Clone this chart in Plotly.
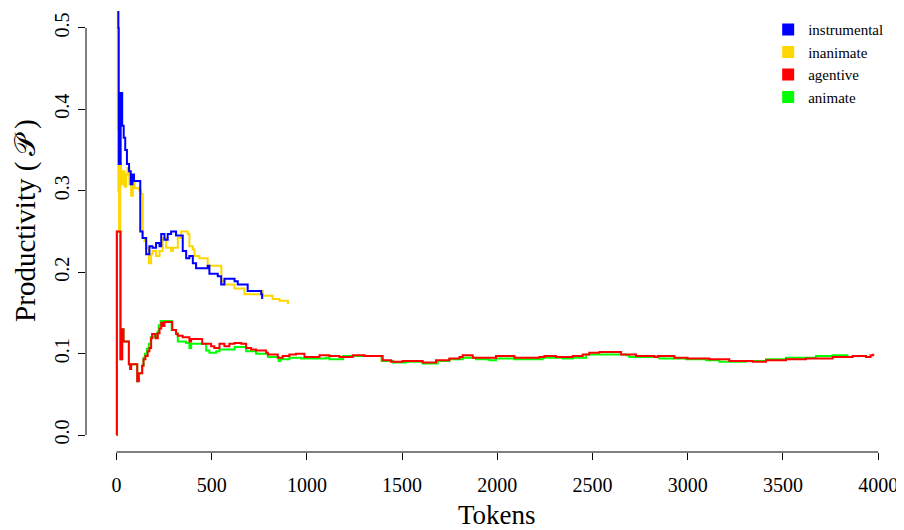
import plotly.graph_objects as go

# ---- data ----
instrumental_tokens = [1, 10, 12, 22, 30, 38, 46, 55, 66, 75, 84, 92, 124, 125, 137, 156, 173, 189, 208, 226,
                       235, 252, 269, 287, 313, 340, 348, 366, 383, 401, 418, 479, 488, 532, 550, 567, 620,
                       637, 689, 760, 765]
instrumental_values = [1.0, 0.5, 0.333, 0.42, 0.38, 0.365, 0.35, 0.333, 0.324, 0.308, 0.32, 0.312, 0.312, 0.25,
                       0.242, 0.222, 0.232, 0.23, 0.236, 0.232, 0.247, 0.24, 0.247, 0.25, 0.245, 0.245, 0.226,
                       0.217, 0.22, 0.211, 0.205, 0.208, 0.198, 0.195, 0.185, 0.192, 0.189, 0.185, 0.177,
                       0.173, 0.167]

inanimate_tokens = [1, 7, 10, 14, 20, 24, 33, 42, 51, 58, 68, 77, 86, 95, 121, 130, 138, 147, 156, 170, 182,
                    189, 208, 226, 243, 261, 287, 296, 322, 340, 374, 383, 401, 410, 435, 479, 550, 551, 567,
                    620, 672, 760, 768, 820, 856, 900]
inanimate_values = [1.0, 0.376, 0.3, 0.25, 0.333, 0.308, 0.324, 0.305, 0.32, 0.328, 0.308, 0.294, 0.312, 0.303,
                    0.30, 0.296, 0.242, 0.238, 0.23, 0.211, 0.222, 0.226, 0.22, 0.226, 0.242, 0.23, 0.226, 0.23,
                    0.242, 0.25, 0.247, 0.232, 0.228, 0.22, 0.217, 0.208, 0.205, 0.189, 0.185, 0.18, 0.173,
                    0.177, 0.171, 0.167, 0.165, 0.161]

agentive_tokens = [1, 2, 20, 21, 30, 37, 59, 65, 72, 77, 103, 109, 117, 130, 135, 142, 152, 164, 173, 182, 187,
                   200, 205, 217, 226, 235, 243, 252, 287, 293, 313, 322, 348, 383, 392, 436, 450, 497, 514,
                   541, 567, 593, 620, 655, 681, 707, 733, 786, 795, 838, 847, 873, 908, 943, 987, 1048, 1066,
                   1118, 1171, 1241, 1302, 1390, 1398, 1442, 1503, 1608, 1678, 1748, 1801, 1818, 1871, 1993,
                   2090, 2221, 2247, 2308, 2396, 2448, 2483, 2536, 2650, 2728, 2825, 2842, 2930, 2999, 3113,
                   3218, 3341, 3411, 3516, 3621, 3761, 3866, 3936, 3960, 3974]
agentive_values = [0.0, 0.25, 0.25, 0.093, 0.13, 0.115, 0.115, 0.087, 0.081, 0.087, 0.087, 0.066, 0.076, 0.076,
                   0.085, 0.093, 0.097, 0.103, 0.107, 0.119, 0.124, 0.124, 0.119, 0.125, 0.131, 0.138, 0.134,
                   0.139, 0.139, 0.129, 0.124, 0.122, 0.12, 0.115, 0.118, 0.118, 0.112, 0.109, 0.107, 0.112,
                   0.109, 0.112, 0.113, 0.112, 0.107, 0.105, 0.104, 0.101, 0.099, 0.099, 0.095, 0.097, 0.099,
                   0.1, 0.096, 0.096, 0.098, 0.097, 0.096, 0.098, 0.097, 0.097, 0.092, 0.09, 0.091, 0.089,
                   0.092, 0.094, 0.096, 0.098, 0.095, 0.097, 0.095, 0.096, 0.097, 0.096, 0.097, 0.099, 0.101,
                   0.102, 0.099, 0.097, 0.096, 0.097, 0.095, 0.094, 0.093, 0.091, 0.09, 0.092, 0.093, 0.094,
                   0.096, 0.097, 0.096, 0.098, 0.1]

animate_tokens = [1, 2, 20, 21, 30, 37, 59, 65, 72, 77, 103, 109, 117, 130, 135, 142, 150, 160, 170, 180, 200,
                  205, 215, 222, 232, 287, 290, 313, 322, 365, 383, 392, 462, 471, 488, 524, 541, 620, 672,
                  681, 733, 795, 847, 852, 860, 908, 970, 1075, 1101, 1118, 1171, 1190, 1392, 1453, 1520,
                  1608, 1660, 1687, 1748, 1818, 1888, 1958, 1993, 2090, 2238, 2343, 2396, 2466, 2536, 2676,
                  2693, 2851, 2991, 3096, 3166, 3306, 3411, 3516, 3673, 3761, 3839]
animate_values = [0.0, 0.25, 0.25, 0.093, 0.13, 0.115, 0.115, 0.087, 0.081, 0.087, 0.087, 0.066, 0.076, 0.076,
                  0.085, 0.095, 0.1, 0.106, 0.112, 0.12, 0.124, 0.12, 0.127, 0.135, 0.14, 0.14, 0.129, 0.125,
                  0.115, 0.113, 0.107, 0.112, 0.112, 0.104, 0.101, 0.103, 0.105, 0.108, 0.108, 0.103, 0.1,
                  0.096, 0.096, 0.091, 0.093, 0.095, 0.094, 0.094, 0.095, 0.093, 0.093, 0.097, 0.091, 0.089,
                  0.09, 0.088, 0.088, 0.091, 0.093, 0.095, 0.093, 0.092, 0.094, 0.093, 0.095, 0.094, 0.095,
                  0.099, 0.099, 0.098, 0.096, 0.094, 0.093, 0.092, 0.09, 0.091, 0.093, 0.095, 0.097, 0.098,
                  0.099]

series_names = ["instrumental", "inanimate", "agentive", "animate"]
series_colors = {"instrumental": "#0000FF", "inanimate": "#FFD700", "agentive": "#FF0000", "animate": "#00FF00"}
series_data = {
    "instrumental": (instrumental_tokens, instrumental_values),
    "inanimate": (inanimate_tokens, inanimate_values),
    "agentive": (agentive_tokens, agentive_values),
    "animate": (animate_tokens, animate_values),
}
draw_order = ["animate", "inanimate", "instrumental", "agentive"]

x_ticks = [0, 500, 1000, 1500, 2000, 2500, 3000, 3500, 4000]
x_tick_labels = ["0", "500", "1000", "1500", "2000", "2500", "3000", "3500", "4000"]
y_ticks = [0.0, 0.1, 0.2, 0.3, 0.4, 0.5]
y_tick_labels = ["0.0", "0.1", "0.2", "0.3", "0.4", "0.5"]

FONT = "Liberation Serif, Times New Roman, DejaVu Serif, serif"

fig = go.Figure()
for name in draw_order:
    xs, ys = series_data[name]
    fig.add_trace(go.Scatter(x=xs, y=ys, mode="lines", line=dict(color=series_colors[name], width=2, shape="hv"),
                             showlegend=False, hoverinfo="skip"))
for name in series_names:
    fig.add_trace(go.Scatter(x=[None], y=[None], mode="markers", name=name,
                             marker=dict(symbol="square", size=12, color=series_colors[name])))

# the page places the figure 8px from the top-left corner, so the figure is 8px smaller
fig.update_layout(
    width=896, height=522,
    margin=dict(l=78, r=2, t=3, b=78, autoexpand=False),
    paper_bgcolor="white", plot_bgcolor="white",
    font=dict(family=FONT, color="black", size=20),
    legend=dict(x=0.836, y=0.995, xanchor="left", yanchor="top", bgcolor="rgba(0,0,0,0)",
                font=dict(family=FONT, size=15, color="black"), tracegroupgap=0, itemwidth=30),
    xaxis=dict(range=[-160, 4125], showgrid=False, zeroline=False, showline=False, automargin=False,
               tickvals=x_ticks, ticktext=x_tick_labels, ticks="outside", ticklen=7, tickwidth=1,
               tickcolor="black", tickfont=dict(size=20), ticklabelstandoff=8),
    yaxis=dict(range=[-0.0208, 0.5208], showgrid=False, zeroline=False, showline=False, automargin=False,
               tickvals=y_ticks, ticktext=y_tick_labels, ticks="outside", ticklen=7, tickwidth=1,
               tickcolor="black", tickfont=dict(size=20), tickangle=-90, ticklabelstandoff=1),
    shapes=[
        dict(type="line", xref="x", yref="paper", x0=x_ticks[0], x1=x_ticks[-1], y0=0, y1=0,
             line=dict(color="black", width=1)),
        dict(type="line", xref="paper", yref="y", x0=0, x1=0, y0=y_ticks[0], y1=y_ticks[-1],
             line=dict(color="black", width=1)),
    ],
    annotations=[
        dict(text="Tokens", xref="x", yref="paper", x=2000, y=-0.143, xanchor="center", yanchor="middle",
             showarrow=False, font=dict(family=FONT, size=27, color="black")),
        dict(text="Productivity (\u2009\U0001D4AB\u2009)",
             xref="paper", yref="y", x=-0.075, y=0.264, textangle=-90,
             xanchor="center", yanchor="middle", showarrow=False,
             font=dict(family=FONT, size=29, color="black")),
    ],
)

fig.write_html("out.html")
